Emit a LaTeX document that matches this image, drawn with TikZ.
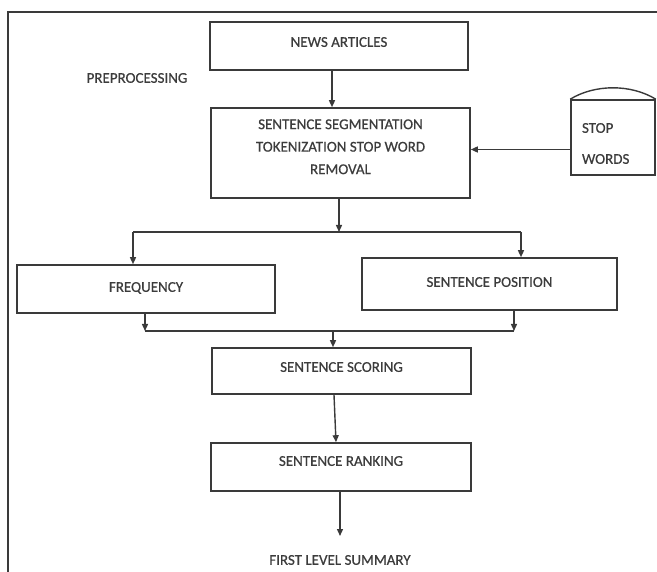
\documentclass[tikz,border=0pt]{standalone}
\usepackage{fontspec}
\setmainfont[FakeBold=0.6,AutoFakeBold=0.6]{Carlito}
\usetikzlibrary{arrows.meta,calc}
\definecolor{ln}{HTML}{3A3A3A}
\definecolor{tx}{HTML}{3C3C3C}
\tikzset{
  box/.style={draw=ln,line width=1.6pt,text=tx,font=\fontsize{15}{22.5}\selectfont\bfseries,align=center,inner sep=0pt},
  lbl/.style={text=tx,font=\fontsize{15}{18}\selectfont\bfseries,inner sep=0pt},
  arr/.style={draw=ln,line width=1.4pt,-{Triangle[length=7pt,width=6pt]}},
  ln/.style={draw=ln,line width=1.4pt}
}
\begin{document}
\begin{tikzpicture}[x=1pt,y=-1pt]
\useasboundingbox (0,0) rectangle (657,572);
\draw[ln,line width=1.8pt] (8,572) -- (8,12) -- (657,12);
% boxes
\node[box,minimum width=258pt,minimum height=48pt] (news) at (339,46) {\raisebox{8pt}{NEWS ARTICLES}};
\node[lbl] (pre) at (137,78) {PREPROCESSING};
\node[box,minimum width=259pt,minimum height=90pt] (seg) at (340.5,153) {SENTENCE SEGMENTATION\\TOKENIZATION STOP WORD\\REMOVAL\\[-10pt]};
\node[box,minimum width=84pt,minimum height=75pt] (sw) at (613,137.5) {\parbox[c]{62pt}{\fontsize{15}{31}\selectfont\bfseries\vspace*{12pt}STOP\\WORDS}};
\draw[ln] (sw.north west) .. controls (595,84) and (631,84) .. (sw.north east);
\node[box,minimum width=258pt,minimum height=48pt] (freq) at (146,289) {\raisebox{4pt}{FREQUENCY}};
\node[box,minimum width=255pt,minimum height=52pt] (pos) at (489.5,284) {\raisebox{4pt}{SENTENCE POSITION}};
\node[box,minimum width=259pt,minimum height=46pt] (score) at (341.5,371) {\raisebox{8pt}{SENTENCE SCORING}};
\node[box,minimum width=260pt,minimum height=48pt] (rank) at (341,467) {\raisebox{12pt}{SENTENCE RANKING}};
\node[lbl] (sum) at (340,560) {FIRST LEVEL SUMMARY};
% connectors
\draw[arr] (news.south -| 332,0) -- (seg.north -| 332,0);
\coordinate (swp) at ($(sw.west)+(0,12)$);
\draw[arr] (swp) -- (seg.east |- swp);
\coordinate (split) at (339,232);
\draw[arr] (seg.south -| split) -- (split);
\draw[ln] (133,232) -- (521,232);
\draw[arr] (133,232) -- (freq.north -| 133,0);
\draw[arr] (521,232) -- (pos.north -| 521,0);
\coordinate (join) at (333,331);
\draw[arr] (freq.south -| 145,0) -- (145,331);
\draw[arr] (pos.south -| 514,0) -- (514,331);
\draw[ln] (145,331) -- (514,331);
\draw[arr] (join) -- (score.north -| join);
\draw[arr] (score.south -| 334,0) -- (rank.north -| 336,0);
\draw[arr] (rank.south -| 340,0) -- (340,536);
\end{tikzpicture}
\end{document}
